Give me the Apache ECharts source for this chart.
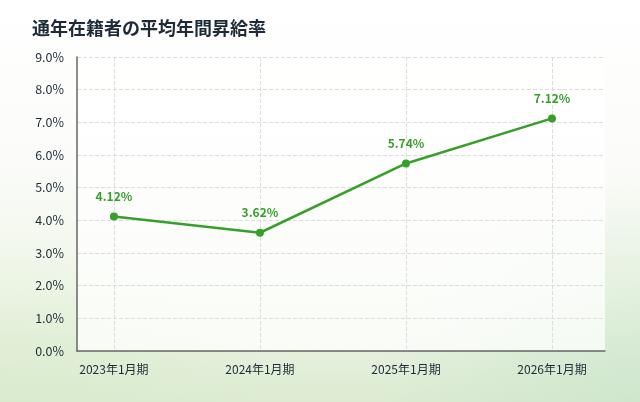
<!DOCTYPE html>
<html><head><meta charset="utf-8">
<script src="https://cdn.jsdelivr.net/npm/echarts@6/dist/echarts.min.js"></script>
<style>
html,body{margin:0;padding:0;}
#c{width:640px;height:402px;
background:
 radial-gradient(ellipse 260px 220px at 640px 402px, rgba(196,226,200,0.55), rgba(255,255,255,0) 100%),
 radial-gradient(ellipse 260px 160px at 0px 402px, rgba(214,234,200,0.5), rgba(255,255,255,0) 100%),
 linear-gradient(180deg, #ffffff 0%, #fbfcf9 40%, #eff6e8 72%, #dcebd2 100%);}
</style></head>
<body><div id="c"></div>
<script>
const titleText = '通年在籍者の平均年間昇給率';
const categories = ['2023年1月期','2024年1月期','2025年1月期','2026年1月期'];
const raiseRates = [4.12, 3.62, 5.74, 7.12];

const chart = echarts.init(document.getElementById('c'), null, {renderer:'canvas'});
const font = '"Noto Sans CJK JP","Noto Sans",sans-serif';
chart.setOption({
  animation:false,
  textStyle:{fontFamily:font},
  title:{text:titleText,left:27,top:14,textStyle:{fontFamily:font,fontSize:18,fontWeight:'bold',color:'#1e2a38'}},
  grid:{left:77,right:35,top:57,bottom:51,show:true,backgroundColor:'rgba(255,255,255,0.75)',borderWidth:0},
  xAxis:{
    type:'value',min:-0.253,max:3.363,
    axisLine:{show:true,onZero:false,lineStyle:{color:'#666',width:1.5}},
    axisTick:{show:false,customValues:[0,1,2,3]},
    axisLabel:{customValues:[0,1,2,3],formatter:v=>categories[Math.round(v)]||'',color:'#1e2a38',fontSize:12,margin:12,fontFamily:font},
    splitLine:{show:true,lineStyle:{type:'dashed',color:'#dddddd'}}
  },
  yAxis:{
    type:'value',min:0,max:9,interval:1,
    axisLine:{show:true,onZero:false,lineStyle:{color:'#666',width:1.5}},
    axisTick:{show:false},
    axisLabel:{formatter:v=>v.toFixed(1)+'%',color:'#1e2a38',fontSize:12.5,margin:13,fontFamily:font},
    splitLine:{show:true,lineStyle:{type:'dashed',color:'#dddddd'}}
  },
  series:[{
    type:'line',
    data:raiseRates.map((v,i)=>[i,v]),
    symbol:'circle',symbolSize:8,
    lineStyle:{color:'#36a02b',width:2.5},
    itemStyle:{color:'#36a02b'},
    label:{show:true,position:'top',distance:10,formatter:p=>p.value[1].toFixed(2)+'%',color:'#36a02b',fontWeight:'bold',fontSize:12,fontFamily:font}
  }]
});
</script></body></html>
